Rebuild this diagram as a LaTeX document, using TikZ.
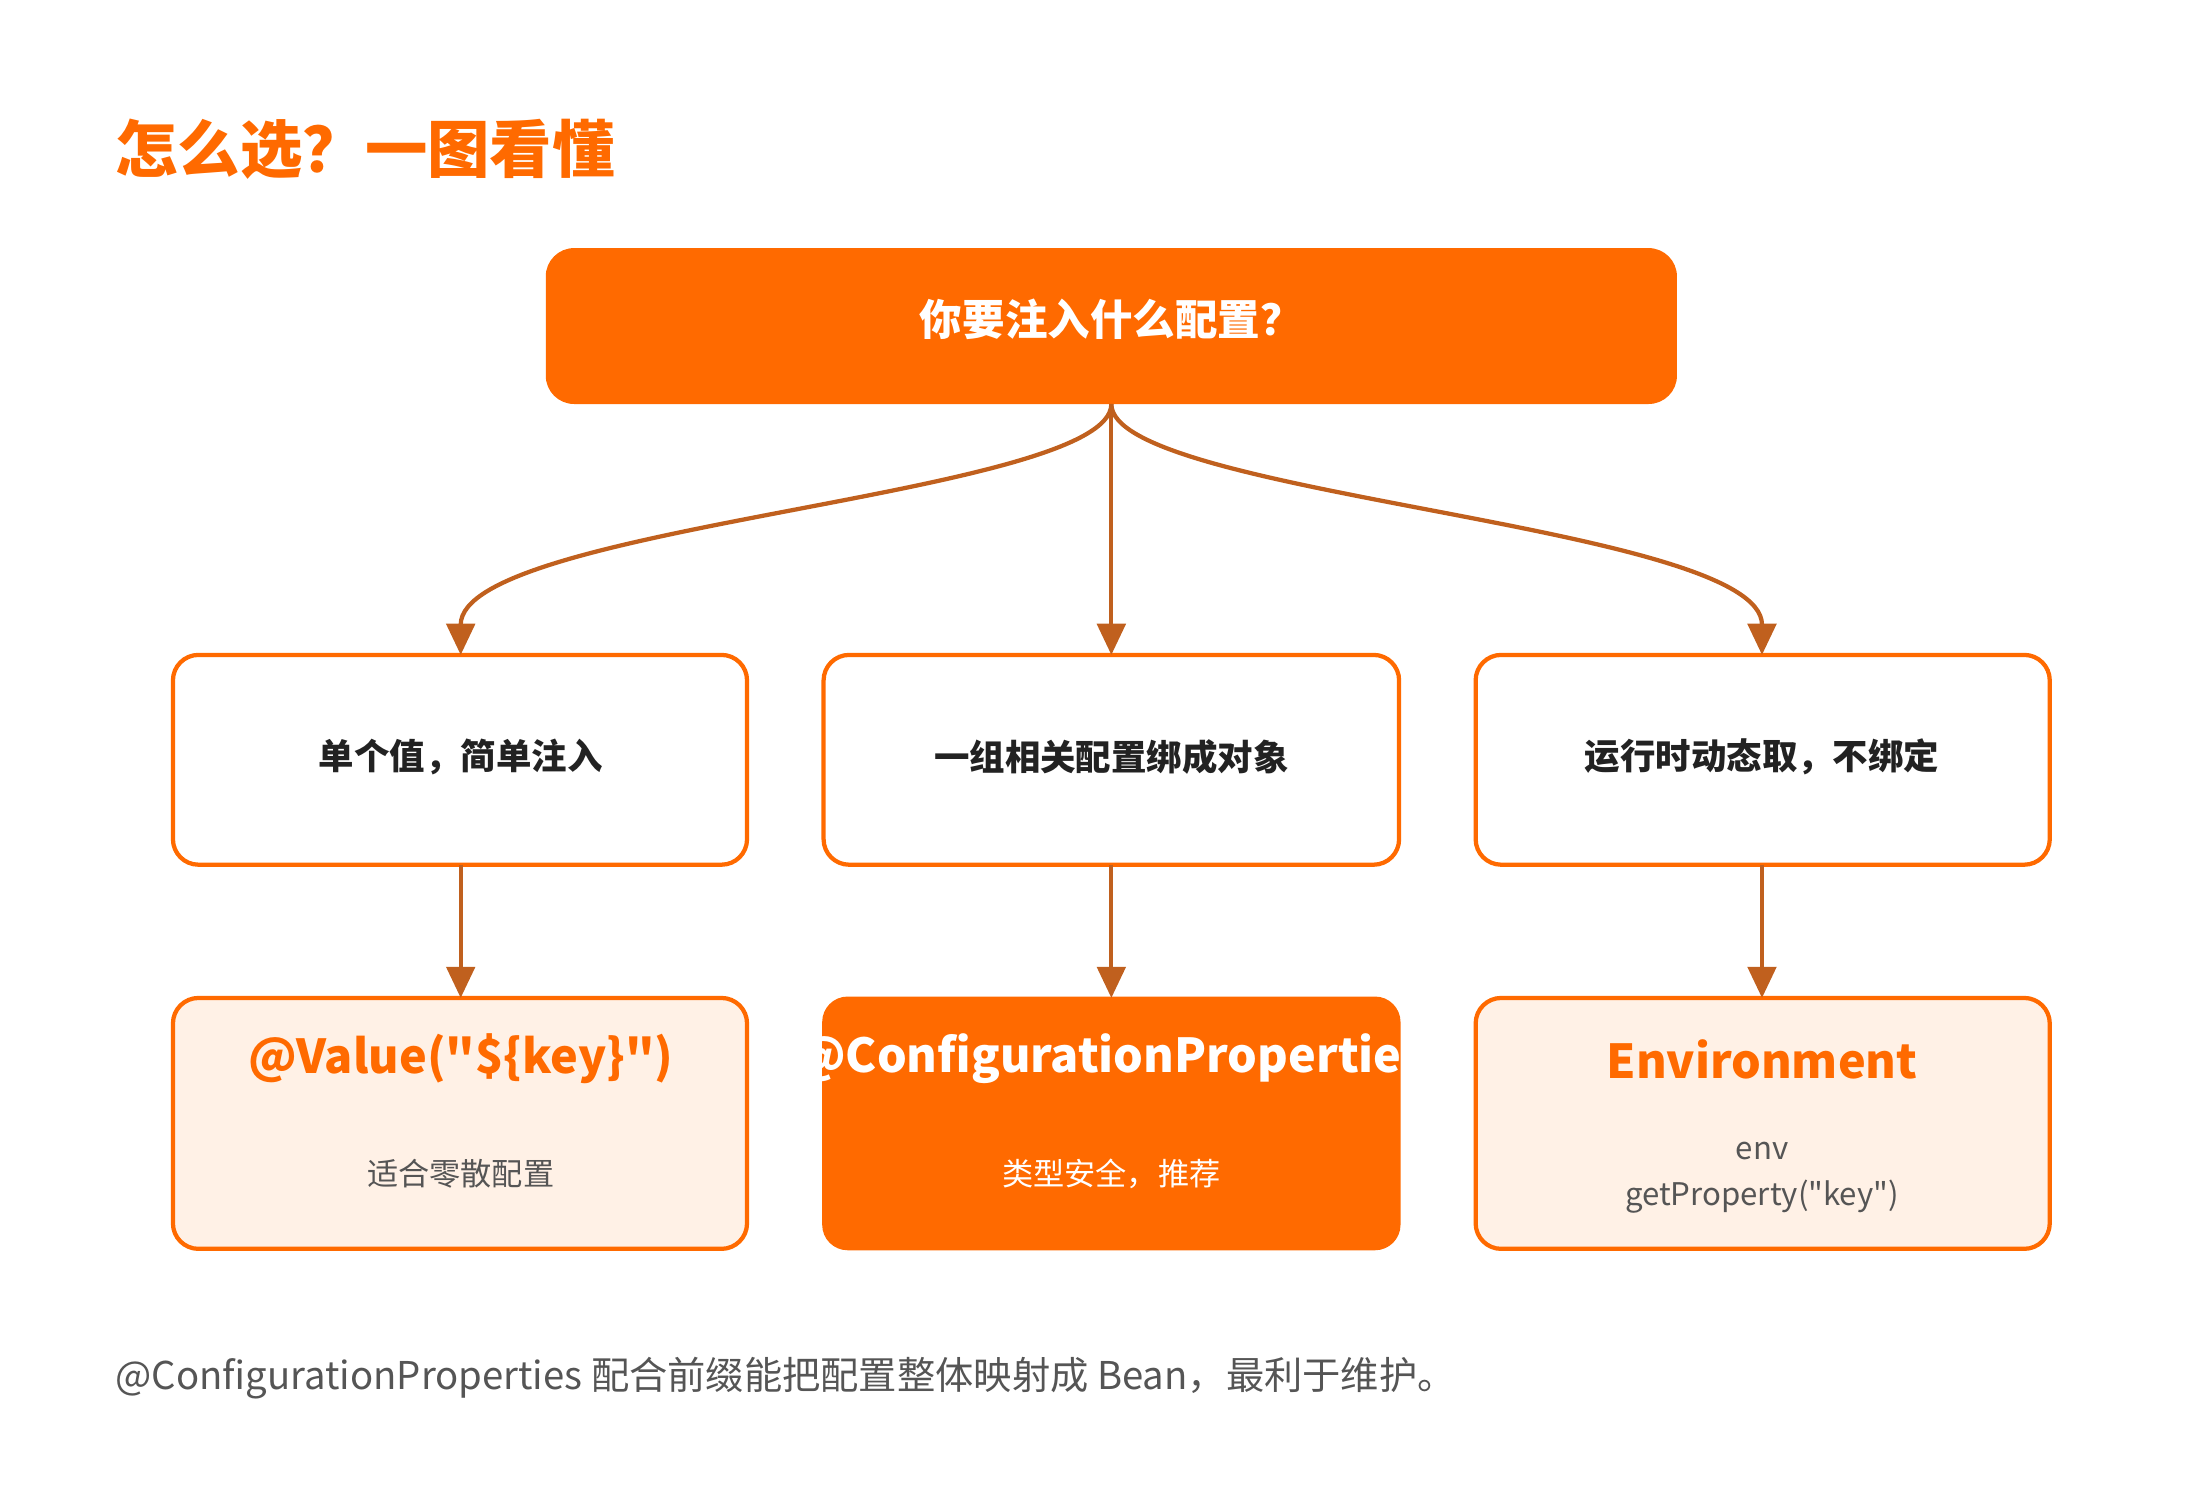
\documentclass[tikz,border=0pt]{standalone}
\usepackage{fontspec}
\setmainfont{Noto Sans CJK SC}[Ligatures=TeXOff]
\usetikzlibrary{arrows.meta}
\definecolor{org}{HTML}{FF6A00}
\definecolor{arr}{HTML}{C0601E}
\definecolor{pale}{HTML}{FFF1E6}
\definecolor{txt}{HTML}{222222}
\definecolor{gr}{HTML}{555555}
\begin{document}
\begin{tikzpicture}[x=1pt,y=-1pt,
 box/.style={draw=org,line width=3pt,rounded corners=18pt,fill=white},
 mid/.style={font=\fontsize{25}{30}\selectfont\bfseries,text=txt},
 btitle/.style={font=\fontsize{33}{40}\selectfont\bfseries,text=org},
 bsub/.style={font=\fontsize{22}{26}\selectfont,text=gr},
 con/.style={draw=arr,line width=3pt,-{Triangle[length=22pt,width=20pt]}}]
\useasboundingbox (0,0) rectangle (1552,1050);
\node[anchor=west,font=\fontsize{44}{50}\selectfont\bfseries,text=org] (title) at (78,105) {怎么选？一图看懂};
\fill[org,rounded corners=20pt] (385,175) rectangle (1183,285);
\node[font=\fontsize{30}{36}\selectfont\bfseries,text=white] (q) at (784,225) {你要注入什么配置？};
\coordinate (qb) at (784,285);
\draw[box] (122,462) rectangle (527,610); \node[mid] (a) at (325,534) {单个值，简单注入};
\draw[box] (581,462) rectangle (987,610); \node[mid] (b) at (784,534) {一组相关配置绑成对象};
\draw[box] (1041,462) rectangle (1446,610); \node[mid] (c) at (1243,534) {运行时动态取，不绑定};
\coordinate (at) at (325,462); \coordinate (bt) at (784,462); \coordinate (ct) at (1243,462);
\coordinate (ab) at (325,610); \coordinate (bb) at (784,610); \coordinate (cb) at (1243,610);
\coordinate (a2) at (325,704); \coordinate (b2) at (784,704); \coordinate (c2) at (1243,704);
\draw[box,fill=pale] (122,704) rectangle (527,881);
\node[btitle] (v) at (325,747) {@Value("\$\{key\}")};
\node[bsub] (vs) at (325,828) {适合零散配置};
\fill[org,rounded corners=18pt] (580,703) rectangle (988,882);
\begin{scope}
\clip (580,703) rectangle (988,882);
\node[btitle,text=white] (cp) at (784,747) {@ConfigurationProperties};
\end{scope}
\node[bsub,text=white] (cps) at (784,828) {类型安全，推荐};
\draw[box,fill=pale] (1041,704) rectangle (1446,881);
\node[btitle] (e) at (1243,747) {Environment};
\node[bsub] (e1) at (1243,812) {env};
\node[bsub] (e2) at (1243,844) {getProperty("key")};
\draw[con] (qb) .. controls (784,350) and (325,370) .. (at);
\draw[con] (qb) -- (bt);
\draw[con] (qb) .. controls (784,350) and (1243,370) .. (ct);
\draw[con] (ab) -- (a2);
\draw[con] (bb) -- (b2);
\draw[con] (cb) -- (c2);
\node[anchor=west,font=\fontsize{27}{32}\selectfont,text=gr] (note) at (78,972) {@ConfigurationProperties 配合前缀能把配置整体映射成 Bean，最利于维护。};
\end{tikzpicture}
\end{document}
